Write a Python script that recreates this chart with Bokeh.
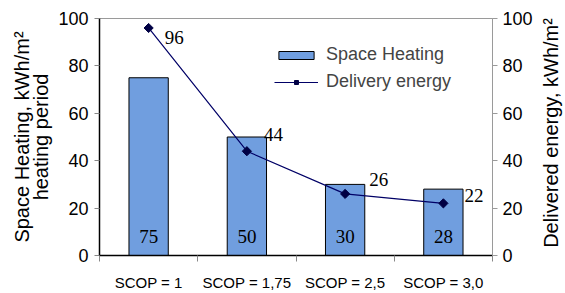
from bokeh.plotting import figure
from bokeh.layouts import row
from bokeh.models import (ColumnDataSource, Range1d, LinearAxis, FixedTicker, LabelSet,
                          Legend, LegendItem, CustomJSTickFormatter)
from bokeh.core.properties import value
from bokeh.embed import file_html
from bokeh.resources import INLINE
import numpy as np

# ---- data ----
categories = ["SCOP = 1", "SCOP = 1,75", "SCOP = 2,5", "SCOP = 3,0"]
space_heating = [75, 50, 30, 28]
delivery_energy = [96, 44, 26, 22]
y_ticks = [0, 20, 40, 60, 80, 100]
right_axis_title = "Delivered energy, kWh/m\u00b2"
left_axis_title = "Space Heating, kWh/m\u00b2\nheating period"

# label placement (pixels) for delivery-energy labels
label_dx = [16, 17, 24, 21]
label_dy = [-10, 17, 14, 8]

xs = [i + 0.5 for i in range(len(categories))]
src = ColumnDataSource(dict(
    x=xs, heat=space_heating, energy=delivery_energy,
    base=[0] * len(categories),
    heat_txt=[str(v) for v in space_heating],
    energy_txt=[str(v) for v in delivery_energy],
    dx=label_dx, dy=label_dy,
))

SANS = "Liberation Sans"
SERIF = "Liberation Serif"

p = figure(width=535, height=293, output_backend="svg", toolbar_location=None,
           x_range=Range1d(0, len(categories)), y_range=Range1d(0, 100),
           min_border_left=99, min_border_right=43, min_border_top=18, min_border_bottom=37,
           x_axis_location=None, y_axis_location=None)
p.outline_line_color = "#9a9a9a"
p.xgrid.visible = False
p.ygrid.visible = False
p.background_fill_color = "white"
p.border_fill_color = "white"

p.extra_y_ranges = {"right": Range1d(0, 100)}

# x axis
xaxis = LinearAxis(ticker=FixedTicker(ticks=xs, minor_ticks=list(range(len(categories) + 1))),
                   formatter=CustomJSTickFormatter(args=dict(cats=categories),
                                                   code="return cats[Math.floor(tick)];"))
xaxis.major_tick_out = 0
xaxis.major_tick_in = 0
xaxis.minor_tick_out = 6
xaxis.minor_tick_in = 0
xaxis.minor_tick_line_color = "#888888"
xaxis.axis_line_color = "black"
xaxis.axis_line_width = 1.5
xaxis.major_label_text_font = SANS
xaxis.major_label_text_font_size = "15px"
xaxis.major_label_text_color = "black"
xaxis.major_label_standoff = 12
p.add_layout(xaxis, "below")

# left axis
laxis = LinearAxis(ticker=FixedTicker(ticks=y_ticks), axis_label=left_axis_title)
laxis.major_tick_out = 5
laxis.major_tick_in = 0
laxis.minor_tick_out = 0
laxis.minor_tick_in = 0
laxis.axis_line_width = 1.5
laxis.axis_line_color = "black"
laxis.major_tick_line_color = "#888888"
laxis.major_label_text_font = SANS
laxis.major_label_text_font_size = "18px"
laxis.major_label_text_color = "black"
laxis.major_label_standoff = 6
laxis.axis_label_text_font = SANS
laxis.axis_label_text_font_size = "20px"
laxis.axis_label_text_font_style = "normal"
laxis.axis_label_text_color = "black"
laxis.axis_label_standoff = 3
laxis.axis_label_text_line_height = 0.88
p.add_layout(laxis, "left")

# right axis
raxis = LinearAxis(y_range_name="right", ticker=FixedTicker(ticks=y_ticks))
raxis.major_tick_out = 5
raxis.major_tick_in = 0
raxis.minor_tick_out = 0
raxis.minor_tick_in = 0
raxis.axis_line_color = "#9a9a9a"
raxis.major_tick_line_color = "#9a9a9a"
raxis.major_label_text_font = SANS
raxis.major_label_text_font_size = "18px"
raxis.major_label_text_color = "black"
raxis.major_label_standoff = 5
p.add_layout(raxis, "right")

# bars
bars = p.vbar(x="x", top="heat", width=0.4, source=src,
              fill_color="#709edf", line_color="black", line_width=1)

# line
line = p.line(x="x", y="energy", source=src, line_color="#000066", line_width=1.2,
              y_range_name="right")
pts = p.scatter(x="x", y="energy", source=src, marker="square", angle=np.pi / 4,
                size=6.5, fill_color="#000044", line_color="#000044", y_range_name="right")

# labels
bar_labels = LabelSet(x="x", y="base", text="heat_txt", source=src, y_offset=13,
                      text_align="center", text_baseline="alphabetic",
                      text_font=value(SERIF), text_font_size=value("19px"), text_color="black")
p.add_layout(bar_labels)
line_labels = LabelSet(x="x", y="energy", text="energy_txt", source=src,
                       x_offset="dx", y_offset="dy", y_range_name="right",
                       text_align="left", text_baseline="middle",
                       text_font=value(SERIF), text_font_size=value("19px"), text_color="black")
p.add_layout(line_labels)

legend = Legend(items=[LegendItem(label="Space Heating", renderers=[bars]),
                       LegendItem(label="Delivery energy", renderers=[line, pts])],
                location=(175, 163), padding=0, margin=0, spacing=6,
                glyph_width=44, glyph_height=10, label_standoff=8,
                label_text_font=SANS, label_text_font_size="18px",
                border_line_color=None, background_fill_alpha=0)
p.add_layout(legend)

# narrow side panel holding the right axis title (reads bottom-to-top)
p2 = figure(width=30, height=293, output_backend="svg", toolbar_location=None,
            x_range=Range1d(0, 1), y_range=Range1d(0, 1),
            min_border_left=0, min_border_right=0, min_border_top=0, min_border_bottom=0,
            x_axis_location=None, y_axis_location=None)
p2.outline_line_color = None
p2.xgrid.visible = False
p2.ygrid.visible = False
p2.background_fill_color = "white"
p2.border_fill_color = "white"
p2.text(x=[0.5], y=[0.517], text=[right_axis_title], angle=np.pi / 2,
        text_align="center", text_baseline="middle",
        text_font=value(SANS), text_font_size=value("20px"), text_color="black")

layout = row(p, p2, spacing=0)
open("out.html", "w").write(file_html(layout, INLINE))
